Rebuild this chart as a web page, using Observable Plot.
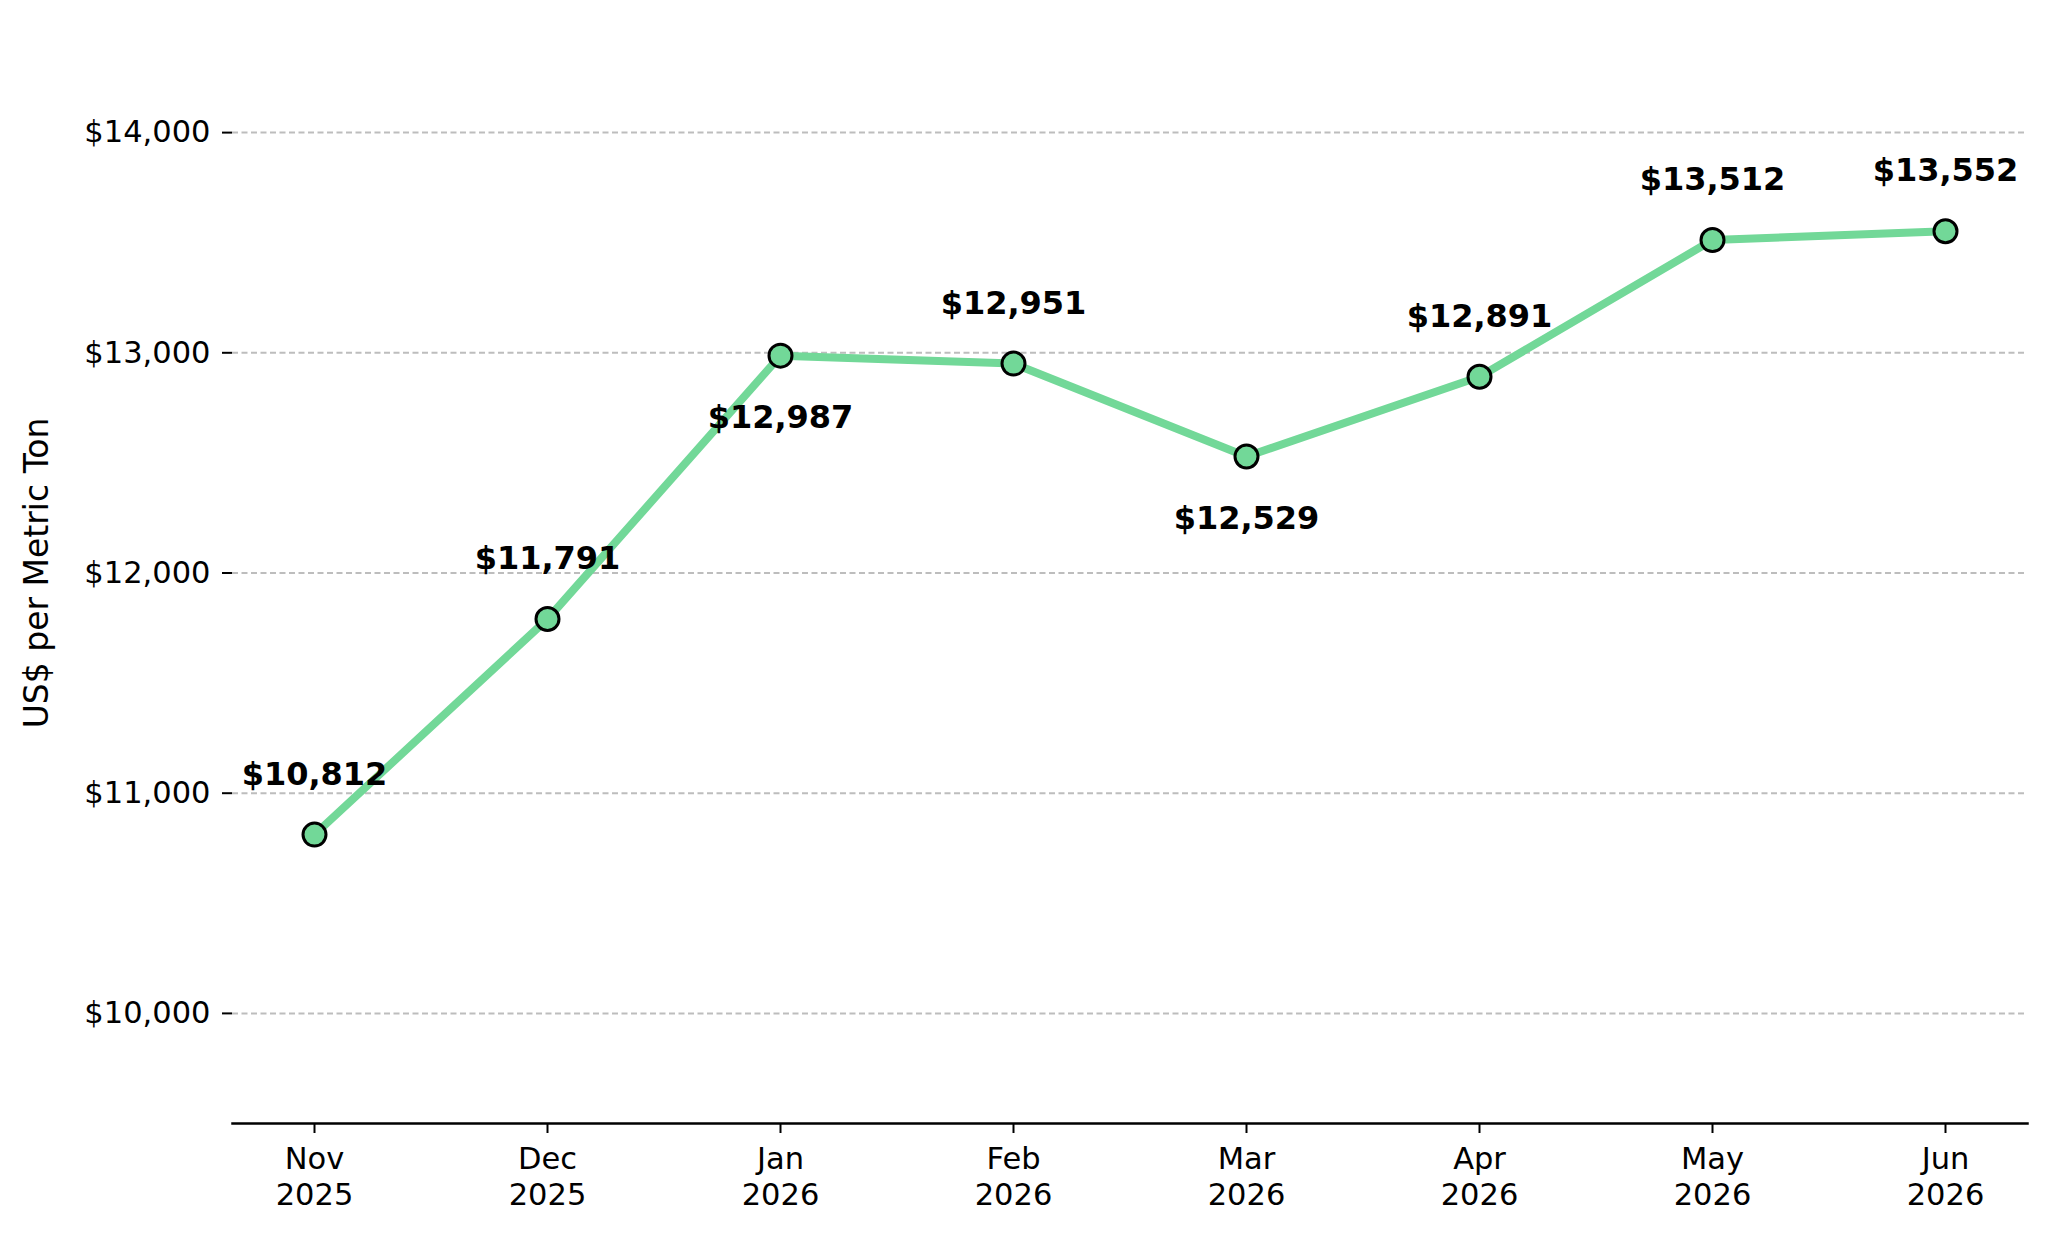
<!DOCTYPE html>
<html>
<head>
<meta charset="utf-8">
<script src="https://cdn.jsdelivr.net/npm/d3@7"></script>
<script src="https://cdn.jsdelivr.net/npm/@observablehq/plot@0.6"></script>
<style>
  html, body { margin: 0; padding: 0; background: #fff; }
  #chart svg { display: block; }
</style>
</head>
<body>
<div id="chart"></div>
<script>
const months = ["Nov\n2025", "Dec\n2025", "Jan\n2026", "Feb\n2026", "Mar\n2026", "Apr\n2026", "May\n2026", "Jun\n2026"];
const prices = [10812, 11791, 12987, 12951, 12529, 12891, 13512, 13552];
const labelSide = ["above", "above", "below", "above", "below", "above", "above", "above"];
const yTicks = [10000, 11000, 12000, 13000, 14000];
const yLabel = "US$ per Metric Ton";

const data = months.map((m, i) => ({month: m, price: prices[i], side: labelSide[i]}));
const fmt = d3.format("$,");
const green = "#72d898";
const font = "DejaVu Sans";

const chart = Plot.plot({
  width: 2048,
  height: 1234,
  marginLeft: 232,
  marginRight: 21,
  marginTop: 22,
  marginBottom: 111,
  style: {fontFamily: font, background: "#fff", color: "#000"},
  x: {type: "point", domain: months, padding: 0.35},
  y: {domain: [9500, 14500]},
  marks: [
    Plot.gridY(yTicks, {stroke: "#bdbdbd", strokeOpacity: 1, strokeWidth: 2, strokeDasharray: "6,3.5"}),
    Plot.axisY(yTicks, {tickFormat: fmt, tickSize: 10, tickPadding: 12, fontSize: 30.5, label: null, stroke: "#000", strokeWidth: 2, fill: "#000"}),
    Plot.axisX({tickSize: 10, tickPadding: 10, fontSize: 30.5, lineHeight: 1.18, label: null, stroke: "#000", strokeWidth: 2, fill: "#000"}),
    Plot.frame({anchor: "bottom", stroke: "#000", strokeWidth: 2.5}),
    Plot.text([yLabel], {frameAnchor: "left", textAnchor: "middle", rotate: -90, dx: -195, fontSize: 33, fill: "#000"}),
    Plot.line(data, {x: "month", y: "price", stroke: green, strokeWidth: 8, strokeLinejoin: "round"}),
    Plot.dot(data, {x: "month", y: "price", r: 11.5, fill: green, stroke: "#000", strokeWidth: 3}),
    Plot.text(data.filter(d => d.side === "above"), {x: "month", y: "price", text: d => fmt(d.price), dy: -60, fontSize: 32, fontWeight: "bold", fill: "#000"}),
    Plot.text(data.filter(d => d.side === "below"), {x: "month", y: "price", text: d => fmt(d.price), dy: 62, fontSize: 32, fontWeight: "bold", fill: "#000"})
  ]
});
document.getElementById("chart").appendChild(chart);
</script>
</body>
</html>
